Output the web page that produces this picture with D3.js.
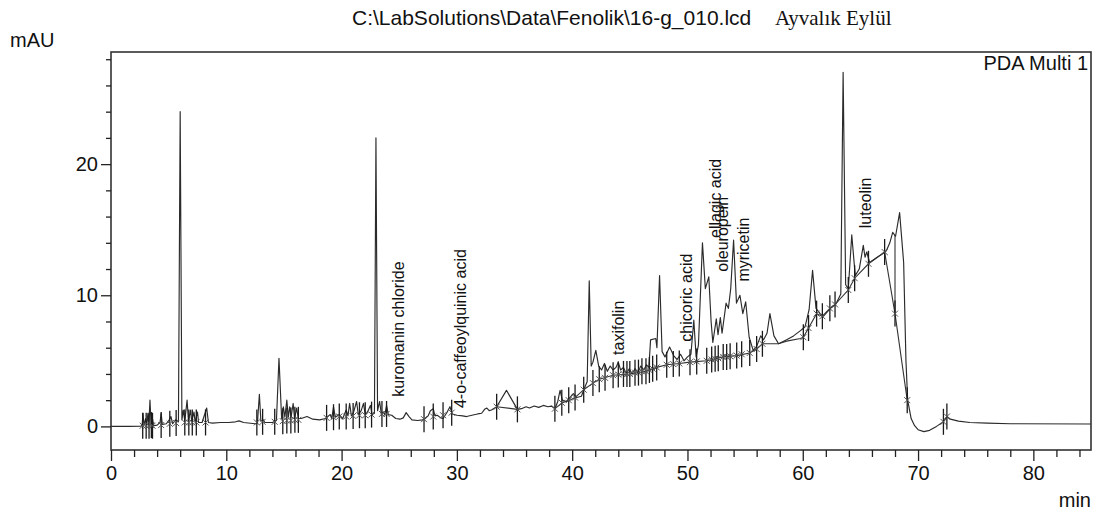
<!DOCTYPE html>
<html>
<head>
<meta charset="utf-8">
<script src="https://cdn.jsdelivr.net/npm/d3@7"></script>
<style>
  html, body { margin: 0; padding: 0; background: #fff; }
  svg { display: block; }
  text { font-family: "Liberation Sans", Arial, sans-serif; fill: #111; }
</style>
</head>
<body>
<svg id="chart" width="1098" height="511"></svg>
<script>
// Chromatogram trace: [retention time (min), absorbance (mAU)]
const tracePoints = [
  [0,0.0],[1.5,0.0],[2.6,0.02],
  [2.7,0.1],[2.78,1.0],[2.86,0.05],[3.0,0.6],[3.1,0.05],[3.2,1.0],[3.28,0.1],[3.38,2.0],[3.48,0.1],[3.6,0.6],[3.7,0.05],
  [4.0,0.1],[4.25,0.3],[4.35,1.0],[4.45,0.15],[4.8,0.2],[5.05,0.5],[5.2,0.75],[5.35,0.2],[5.6,0.5],[5.85,0.35],
  [6.0,24.0],[6.15,0.5],[6.27,1.25],[6.4,0.4],[6.6,2.0],[6.72,0.4],[6.9,1.25],[7.0,0.35],[7.2,1.1],[7.3,0.3],
  [7.5,1.1],[7.6,0.3],[7.9,0.3],[8.3,1.4],[8.45,0.3],[8.8,0.25],[9.5,0.3],[10.2,0.3],[10.8,0.35],[11.1,0.42],
  [11.5,0.3],[12.5,0.2],[12.7,0.25],
  [12.87,2.45],[13.0,0.4],[13.2,0.5],[13.35,0.3],[14.0,0.3],[14.35,0.45],
  [14.57,5.2],[14.8,0.6],[14.95,1.5],[15.08,0.7],[15.25,2.0],[15.38,0.7],[15.5,1.5],[15.62,0.7],[15.8,1.75],
  [15.92,0.6],[16.1,1.4],[16.25,0.6],[16.5,0.6],[17.0,0.75],[17.5,0.55],[18.1,0.5],[18.6,0.6],[19.0,0.9],
  [19.15,0.6],[19.3,1.5],[19.45,0.7],[19.8,0.9],[20.1,0.6],[20.4,1.25],[20.55,0.8],[20.7,1.75],[20.85,0.8],
  [21.05,1.1],[21.3,1.9],[21.45,0.9],[21.7,1.2],[21.9,1.75],[22.05,0.9],[22.25,1.1],[22.5,1.6],[22.65,0.9],[22.85,1.0],
  [22.98,22.0],[23.12,1.2],[23.3,1.9],[23.45,0.9],[23.6,1.1],[23.75,0.9],[23.9,1.6],[24.05,0.9],[24.35,0.85],
  [24.7,0.6],[25.06,0.55],[25.35,0.65],[25.6,1.05],[25.85,0.75],[26.1,0.5],[26.6,0.45],[27.0,0.5],[27.2,0.55],
  [27.5,0.8],[27.7,1.2],[27.95,1.35],[28.1,0.8],[28.3,0.85],[28.6,0.65],[28.8,0.6],[29.1,1.0],[29.4,1.5],
  [29.6,0.95],[30.0,0.85],[30.5,0.8],[30.85,0.75],[31.3,0.85],[31.8,0.95],[32.15,1.0],[32.4,1.3],[32.6,1.4],
  [32.8,1.2],[33.0,1.25],[33.45,1.5],
  [34.3,2.75],[35.25,1.3],[35.6,1.35],[36.0,1.5],[36.3,1.4],[36.7,1.55],[37.1,1.45],[37.5,1.6],[37.9,1.5],
  [38.2,1.55],[38.5,1.35],[38.75,1.9],[38.95,2.75],[39.15,2.0],[39.5,1.9],[39.8,2.2],[40.1,2.5],[40.4,2.2],
  [40.8,2.3],[41.1,3.0],[41.3,3.4],
  [41.48,11.1],[41.65,4.6],[41.8,4.9],[42.05,5.8],[42.3,4.6],[42.55,4.3],[42.8,4.8],[43.05,4.2],[43.3,4.6],
  [43.55,4.3],[43.8,4.5],[44.0,4.9],[44.2,4.3],[44.45,4.5],[44.7,4.0],[44.95,4.4],[45.2,4.0],[45.45,4.4],
  [45.7,4.1],[45.95,4.6],[46.2,4.3],[46.45,4.7],[46.65,4.5],[46.8,6.6],[47.25,6.7],[47.35,6.0],
  [47.58,11.5],[47.8,5.7],[48.05,5.3],[48.45,6.05],[48.8,5.4],[49.1,5.1],[49.4,5.5],[49.7,5.0],[50.0,5.3],
  [50.3,5.5],[50.55,8.1],[50.75,5.3],[50.95,6.2],
  [51.3,14.0],[51.55,10.5],[51.85,11.4],[52.05,8.0],[52.2,6.4],[52.5,8.2],[52.65,7.0],[52.85,8.3],[53.0,7.1],
  [53.35,9.4],[53.55,9.0],[53.75,10.5],[54.0,14.2],[54.25,9.4],[54.55,10.0],[54.8,8.6],[55.05,9.5],[55.35,6.8],
  [55.7,5.8],[56.0,6.1],[56.35,6.9],[56.6,6.6],[56.9,7.1],[57.15,8.6],[57.5,6.9],[57.9,6.3],[58.6,6.6],
  [59.2,6.9],[59.8,7.3],[60.2,7.6],[60.55,8.9],
  [60.85,11.9],[61.15,9.0],[61.5,8.6],[61.8,8.4],[62.4,9.0],[62.85,9.3],[63.3,10.1],
  [63.5,27.0],[63.72,10.8],[63.95,10.5],[64.25,14.6],[64.55,11.5],[64.9,12.0],[65.25,13.8],[65.4,12.9],
  [65.55,13.3],[65.8,12.5],[66.3,12.8],[66.8,13.1],[67.25,13.4],[67.55,14.0],[67.8,14.8],[68.05,14.5],
  [68.4,16.3],[68.75,12.5],[68.95,5.0],[69.1,2.0],[69.4,0.6],[69.7,0.05],[70.0,-0.25],[70.5,-0.4],[71.0,-0.3],
  [71.6,0.0],[72.2,0.35],[72.5,0.75],[72.8,0.55],[73.5,0.4],[74.5,0.3],[76,0.25],[78,0.2],[85,0.18]
];

// Integration baselines drawn under resolved peaks
const baselineSegments = [
  [[33.45,1.5],[35.25,1.3]],
  [[38.5,1.35],[39.15,1.8],[39.8,2.0],[40.25,2.2],[41.0,2.8],[41.8,3.3],[42.35,3.6],[43.55,3.9],[45.0,4.0],
   [46.4,4.2],[47.33,4.5],[48.2,4.7],[49.3,4.8],[50.2,4.9],[51.67,5.0],[53.1,5.3],[54.27,5.4],[55.4,5.6],
   [56.0,5.9],[56.5,6.3],[57.9,6.3],[58.6,6.5],[59.8,6.7],[60.05,6.8],[60.5,7.5],[61.2,8.6],[61.7,8.4],
   [62.35,9.0],[62.8,9.3],[63.95,10.4],[64.5,11.3],[65.7,12.4],[67.1,13.3],[68.0,8.6],[69.06,2.0]],
  [[68.0,14.6],[68.0,8.6]]
];

// Peak start / end event marks: [time, baseline mAU]
const eventMarks = [
  [2.75,0.05],[3.05,0.05],[3.3,0.05],[3.5,0.1],[3.6,0.05],[4.35,0.1],[5.1,0.2],[5.65,0.25],[6.4,0.3],
  [6.75,0.3],[7.05,0.3],[7.4,0.3],[8.2,0.3],
  [12.65,0.3],[13.15,0.35],[14.2,0.35],[14.9,0.4],[15.25,0.45],[15.6,0.45],[15.95,0.5],[16.25,0.5],
  [18.7,0.65],[19.3,0.7],[19.8,0.75],[20.4,0.75],[21.0,0.8],[21.55,0.85],[22.05,0.85],[22.6,0.9],[23.5,0.95],[23.9,0.95],
  [27.15,0.55],[27.95,0.75],[28.8,0.85],[29.55,1.05],
  [33.45,1.5],[35.25,1.3],
  [38.5,1.35],[39.1,1.8],[39.7,2.0],[40.25,2.2],[41.0,2.8],
  [41.8,3.3],[42.35,3.6],[42.85,3.7],[43.55,3.9],[44.0,3.95],[44.45,4.0],[44.75,4.0],[45.0,4.0],[45.45,4.1],
  [45.75,4.1],[46.05,4.2],[46.4,4.2],[46.7,4.3],[46.98,4.4],[47.33,4.5],[48.2,4.7],[48.77,4.75],[49.29,4.8],
  [50.22,4.9],[50.8,4.95],[51.67,5.0],[52.1,5.1],[52.4,5.15],[52.67,5.2],[53.1,5.3],[53.4,5.3],[53.7,5.35],
  [54.27,5.4],[54.7,5.5],[55.4,5.6],[56.0,5.9],[56.5,6.3],
  [60.05,6.8],[60.5,7.5],[61.2,8.6],[61.7,8.4],[62.35,9.0],[62.8,9.3],[63.95,10.4],[64.5,11.3],[65.7,12.4],
  [67.1,13.3],[68.0,8.6],[69.06,2.0],[72.2,0.35],[72.5,0.75]
];

// Identified compounds: [name, time, mAU at label foot]
const peakLabels = [
  ["kuromanin chloride", 24.93, 2.27],
  ["4-o-caffeoylquinic acid", 30.34, 1.40],
  ["taxifolin", 43.97, 5.45],
  ["chicoric acid", 49.93, 6.46],
  ["ellagic acid", 52.38, 14.37],
  ["oleuropein", 53.04, 11.8],
  ["myricetin", 54.84, 11.04],
  ["luteolin", 65.46, 15.11]
];

const xMajorTicks = [0, 10, 20, 30, 40, 50, 60, 70, 80];
const xMinorTicks = d3.range(2, 85, 2).filter(d => d % 10 !== 0);
const yMajorTicks = [0, 10, 20];
const yMinorTicks = d3.range(2, 29, 2).filter(d => d % 10 !== 0);

const titleText = "C:\\LabSolutions\\Data\\Fenolik\\16-g_010.lcd";
const sampleText = "Ayvalık Eylül";
const channelText = "PDA Multi 1";

const svg = d3.select("#chart");
const x = d3.scaleLinear().domain([0, 85]).range([111, 1091]);
const y = d3.scaleLinear().domain([-1.8, 28.55]).range([450, 52]);

const line = d3.line().x(d => x(d[0])).y(d => y(d[1]));

// clip so the trace stays inside the frame
svg.append("clipPath").attr("id", "plotclip")
  .append("rect").attr("x", 111).attr("y", 52).attr("width", 980).attr("height", 398);

const plot = svg.append("g").attr("clip-path", "url(#plotclip)");

// integration baselines
plot.selectAll("path.base").data(baselineSegments).join("path")
  .attr("class", "base")
  .attr("d", line)
  .attr("fill", "none")
  .attr("stroke", "#333")
  .attr("stroke-width", 1.1);

// chromatogram
plot.append("path")
  .datum(tracePoints)
  .attr("d", line)
  .attr("fill", "none")
  .attr("stroke", "#2b2b2b")
  .attr("stroke-width", 1.15)
  .attr("stroke-linejoin", "round");

// event marks
const marks = plot.selectAll("g.mark").data(eventMarks).join("g")
  .attr("class", "mark")
  .attr("transform", d => `translate(${x(d[0])},${y(d[1])})`);
marks.append("line").attr("x1", 0).attr("x2", 0).attr("y1", -13).attr("y2", 13)
  .attr("stroke", "#1a1a1a").attr("stroke-width", 1.3);
marks.append("path").attr("d", "M-3,-3L3,3M-3,3L3,-3")
  .attr("stroke", "#555").attr("stroke-width", 1);

// compound labels
svg.selectAll("text.peak").data(peakLabels).join("text")
  .attr("class", "peak")
  .attr("transform", d => `translate(${x(d[1])},${y(d[2])}) rotate(-90)`)
  .attr("dy", "0.35em")
  .attr("font-size", 16)
  .text(d => d[0]);

// frame
svg.append("rect")
  .attr("x", 111).attr("y", 52).attr("width", 980).attr("height", 398)
  .attr("fill", "none").attr("stroke", "#333").attr("stroke-width", 1.6);

// x axis
const gxMinor = svg.append("g").attr("transform", "translate(0,450)")
  .call(d3.axisBottom(x).tickValues(xMinorTicks).tickSize(7).tickFormat(""));
const gxMajor = svg.append("g").attr("transform", "translate(0,450)")
  .call(d3.axisBottom(x).tickValues(xMajorTicks).tickSize(11).tickPadding(5).tickFormat(d3.format("d")));
// y axis
const gyMinor = svg.append("g").attr("transform", "translate(111,0)")
  .call(d3.axisLeft(y).tickValues(yMinorTicks).tickSize(5).tickFormat(""));
const gyMajor = svg.append("g").attr("transform", "translate(111,0)")
  .call(d3.axisLeft(y).tickValues(yMajorTicks).tickSize(10).tickPadding(3).tickFormat(d3.format("d")));

[gxMinor, gxMajor, gyMinor, gyMajor].forEach(g => {
  g.select(".domain").remove();
  g.selectAll(".tick line").attr("stroke", "#222").attr("stroke-width", 1.3);
  g.selectAll(".tick text").attr("font-size", 20).attr("font-family", "Liberation Sans, Arial, sans-serif").attr("fill", "#111");
});

// titles and units
svg.append("text").attr("x", 352).attr("y", 25).attr("font-size", 21).text(titleText);
svg.append("text").attr("x", 775).attr("y", 25).attr("font-size", 21)
  .style("font-family", "'Liberation Serif', 'Times New Roman', serif").text(sampleText);
svg.append("text").attr("x", 10).attr("y", 47).attr("font-size", 20).text("mAU");
svg.append("text").attr("x", 1088).attr("y", 70).attr("text-anchor", "end").attr("font-size", 20).text(channelText);
svg.append("text").attr("x", 1091).attr("y", 507).attr("text-anchor", "end").attr("font-size", 20).text("min");
</script>
</body>
</html>
